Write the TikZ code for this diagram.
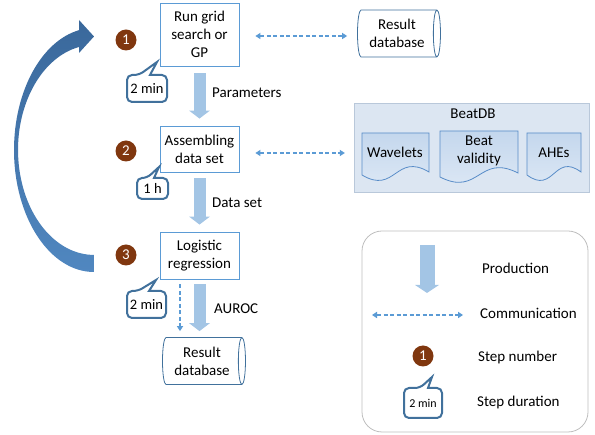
\documentclass[tikz,border=0pt]{standalone}
\usepackage{fontspec}
\setmainfont{Carlito}
\usetikzlibrary{shapes.geometric,arrows.meta,calc}

\definecolor{boxline}{RGB}{91,155,213}
\definecolor{calloutline}{RGB}{65,113,156}
\definecolor{badgefill}{RGB}{128,55,15}
\definecolor{prodfill}{RGB}{163,197,229}
\definecolor{commline}{RGB}{91,155,213}
\definecolor{beatfill}{RGB}{220,230,242}
\definecolor{beatline}{RGB}{185,200,218}
\definecolor{docline}{RGB}{88,140,200}
\definecolor{doctop}{RGB}{196,215,237}
\definecolor{docbot}{RGB}{224,234,246}
\definecolor{loopdark}{RGB}{58,104,155}
\definecolor{looplight}{RGB}{80,135,192}
\definecolor{legendline}{RGB}{190,190,190}

% speech-bubble duration tag: name, x1, y1, x2, y2, tail base left x, tail base right x, tip, text
\newcommand\durtag[9]{%
  \draw[tagline] (#7,#3) [rounded corners=5pt] -- (#4,#3) -- (#4,#5) -- (#2,#5) -- (#2,#3) -- (#6,#3)
    [sharp corners] -- #8 -- cycle;
  \node[inner sep=0pt] (#1) at ({(#2+#4)/2},{(#3+#5)/2}) {#9};
}
% document shape with a wavy lower edge: x1, ytop, x2, y left end, y right end
\newcommand\docshape[5]{%
  \shade[top color=doctop, bottom color=docbot, draw=docline, line width=0.8pt]
    (#1,#2) -- (#3,#2) -- (#3,#5)
    .. controls ({(#1+#3)/2},{#5-20}) and ({(#1+#3)/2},{#4+20}) .. (#1,#4) -- cycle;
}

\begin{document}
\begin{tikzpicture}[x=1pt,y=-1pt,
  every node/.style={font=\fontsize{15}{18}\selectfont, align=center},
  stepbox/.style={draw=boxline, line width=0.9pt, fill=white, minimum width=79pt, inner sep=0pt},
  badge/.style={circle, fill=badgefill, text=white, minimum size=21pt, inner sep=0pt,
    font=\fontsize{15}{15}\selectfont},
  prodarrow/.style={draw=prodfill, line width=12pt,
    -{Triangle[width=21pt,length=8pt,line width=0pt]}},
  commarrow/.style={draw=commline, line width=1.4pt, dash pattern=on 4pt off 2.5pt,
    {Triangle[length=5pt,width=6.5pt,line width=0pt]}-{Triangle[length=5pt,width=6.5pt,line width=0pt]}},
  commdown/.style={draw=commline, line width=1.4pt, dash pattern=on 4pt off 2.5pt,
    -{Triangle[length=5pt,width=6.5pt,line width=0pt]}},
  dbcyl/.style={cylinder, draw=calloutline, line width=0.8pt, fill=white, aspect=0.25,
    minimum height=83pt, minimum width=47pt, inner sep=0pt},
  tagline/.style={draw=calloutline, line width=2pt, fill=white},
  label/.style={anchor=west, inner sep=0pt},
]
\useasboundingbox (0,0) rectangle (595,435);

% loop-back arrow on the left
\shade[top color=loopdark, bottom color=looplight]
  (94,272) arc[start angle=90, end angle=259.2, x radius=80, y radius=122]
  -- (79,20) -- (94,36.5) -- (79,53) -- (79,47)
  arc[start angle=258.6, end angle=90, x radius=76, y radius=105] -- cycle;

% processing steps
\node[stepbox, minimum height=63pt] (b1) at (199.5,34.5) {Run grid\\search or\\GP};
\node[stepbox, minimum height=46pt] (b2) at (199.5,149) {Assembling\\data set};
\node[stepbox, minimum height=47pt] (b3) at (199.5,255.5) {Logistic\\regression};

\node[badge] (s1) at (126,40) {1};
\node[badge] (s2) at (126,151) {2};
\node[badge] (s3) at (126,255) {3};

% result databases
\node[dbcyl] (db1) at (397,33.5) {Result\\database};
\node[dbcyl] (db2) at (202,361) {Result\\database};

% BeatDB container
\node[draw=beatline, fill=beatfill, minimum width=235pt, minimum height=89pt, inner sep=0pt] (beat) at (471.5,147.5) {};
\node (beattitle) at (473,114) {BeatDB};
\docshape{362}{133}{429}{175}{172}
\docshape{440}{131}{518}{177}{173}
\docshape{527}{133}{581}{175}{172}
\node (wav) at (395,152) {Wavelets};
\node (bval) at (479,151) {Beat\\validity};
\node (ahe) at (554,153) {AHEs};

% production flow
\draw[prodarrow, shorten <=7pt, shorten >=7pt] (b1) -- (b2);
\draw[prodarrow, shorten <=6pt, shorten >=7pt] (b2) -- (b3);
\draw[prodarrow, shorten <=5pt, shorten >=6pt] (b3.south) -- (b3.south |- db2.north);
\node[label] (lparam) at (212,93) {Parameters};
\node[label] (ldata) at (212,203) {Data set};
\node[label] (lauroc) at (214,309) {AUROC};

% communication
\draw[commarrow, shorten <=16pt, shorten >=10pt] ([yshift=-1.5pt]b1.east) -- ([yshift=-1.5pt]b1.east -| db1.west);
\draw[commarrow, shorten <=16pt, shorten >=9pt] ([yshift=-4pt]b2.east) -- ([yshift=-4pt]b2.east -| beat.west);
\draw[commdown, shorten <=5pt, shorten >=6pt] ([xshift=-19.5pt]b3.south) -- ([xshift=-19.5pt]b3.south |- db2.north);

% step durations
\durtag{t1}{127}{75}{167}{102}{139}{150}{(157,62)}{\fontsize{14.5}{15}\selectfont 2 min}
\durtag{t2}{137}{178}{168}{199}{147}{154}{(159,167)}{\fontsize{14.5}{15}\selectfont 1 h}
\durtag{t3}{127}{291}{166}{318}{138}{149}{(156,280)}{\fontsize{14.5}{15}\selectfont 2 min}

% legend
\draw[legendline, line width=0.8pt, rounded corners=20pt] (362,231) rectangle (588,432);
\coordinate (lp1) at (427,245);
\coordinate (lp2) at (427,293);
\draw[prodarrow, line width=15pt, -{Triangle[width=24pt,length=8pt,line width=0pt]}] (lp1) -- (lp2);
\node[label] (lgprod) at (482,268) {Production};
\coordinate (lc1) at (372,315);
\coordinate (lc2) at (463,315);
\draw[commarrow] (lc1) -- (lc2);
\node[label] (lgcomm) at (480,313) {Communication};
\node[badge] (lgbadge) at (423,356) {1};
\node[label] (lgstep) at (478,358) {Step number};
\durtag{lgtag}{404}{388}{442}{418}{420}{428}{(432,377)}{\fontsize{12}{13}\selectfont 2 min}
\node[label] (lgdur) at (477,403) {Step duration};
\end{tikzpicture}
\end{document}
